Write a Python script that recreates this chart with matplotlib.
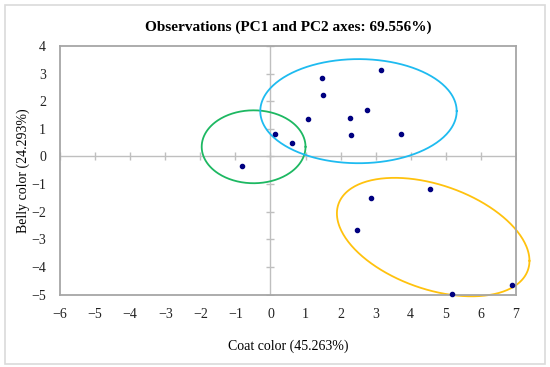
import numpy as np
import matplotlib
matplotlib.use("Agg")
import matplotlib.pyplot as plt
from matplotlib.patches import Rectangle

plt.rcParams['font.family'] = ['Liberation Serif', 'DejaVu Serif']

# observations (PC1, PC2)
pc1 = [-0.81, 0.12, 0.62, 1.06, 1.48, 1.51, 2.27, 2.29, 2.74, 3.16, 3.72,
       2.86, 2.46, 4.54, 5.19, 6.88]
pc2 = [-0.35, 0.81, 0.49, 1.36, 2.83, 2.24, 1.38, 0.79, 1.67, 3.13, 0.81,
       -1.50, -2.67, -1.19, -4.97, -4.66]

# group ellipses: centre, spread in x / y, correlation
ell_names = ['green', 'blue', 'yellow']
ell_cx = [-0.48, 2.51, 4.64]
ell_cy = [0.35, 1.64, -2.92]
ell_sx = [1.48, 2.80, 2.745]
ell_sy = [1.32, 1.885, 2.145]
ell_rho = [0.0, 0.0, -0.40]
ell_colors = ['#1DB862', '#1EBBF0', '#FFC20E']

xticks = list(range(-6, 8))
yticks = list(range(-5, 5))

fig = plt.figure(figsize=(5.5, 3.67), dpi=100)
ax = fig.add_axes([0.1091, 0.1975, 0.829, 0.6772])

fig.patches.append(Rectangle((5 / 550, 3 / 367), 540 / 550, 359 / 367,
                             transform=fig.transFigure, fill=False,
                             edgecolor='#DADADA', lw=1.2))

# zero lines with small cross ticks
ax.axhline(0, color='#BFBFBF', lw=1.0, zorder=1)
ax.axvline(0, color='#BFBFBF', lw=1.0, zorder=1)
ax.plot(xticks, [0] * len(xticks), ls='none', marker='|', ms=6,
        mew=1.0, color='#BFBFBF', zorder=1)
ax.plot([0] * len(yticks), yticks, ls='none', marker='_', ms=6,
        mew=1.0, color='#BFBFBF', zorder=1)

t = np.linspace(0, 2 * np.pi, 300)
for cx, cy, sx, sy, r, c in zip(ell_cx, ell_cy, ell_sx, ell_sy, ell_rho, ell_colors):
    cov = np.array([[sx ** 2, r * sx * sy], [r * sx * sy, sy ** 2]])
    L = np.linalg.cholesky(cov)
    pts = L @ np.vstack([np.cos(t), np.sin(t)])
    ax.plot(cx + pts[0], cy + pts[1], color=c, lw=1.3, clip_on=False, zorder=2)

ax.scatter(pc1, pc2, s=9, color='#000080', zorder=3, clip_on=False)

ax.set_xlim(-6, 7)
ax.set_ylim(-5, 4)
ax.set_xticks(xticks)
ax.set_yticks(yticks)
ax.tick_params(length=0, labelsize=10, colors='#222222')
ax.tick_params(axis='x', pad=10)
ax.tick_params(axis='y', pad=10)
for s in ax.spines.values():
    s.set_color('#A6A6A6')
    s.set_linewidth(1.3)

ax.set_title('Observations (PC1 and PC2 axes: 69.556%)', fontsize=11,
             fontweight='bold', pad=11)
ax.set_xlabel('Coat color (45.263%)', fontsize=10, labelpad=13)
ax.set_ylabel('Belly color (24.293%)', fontsize=10, labelpad=1)

fig.savefig('out.png', dpi=100)
